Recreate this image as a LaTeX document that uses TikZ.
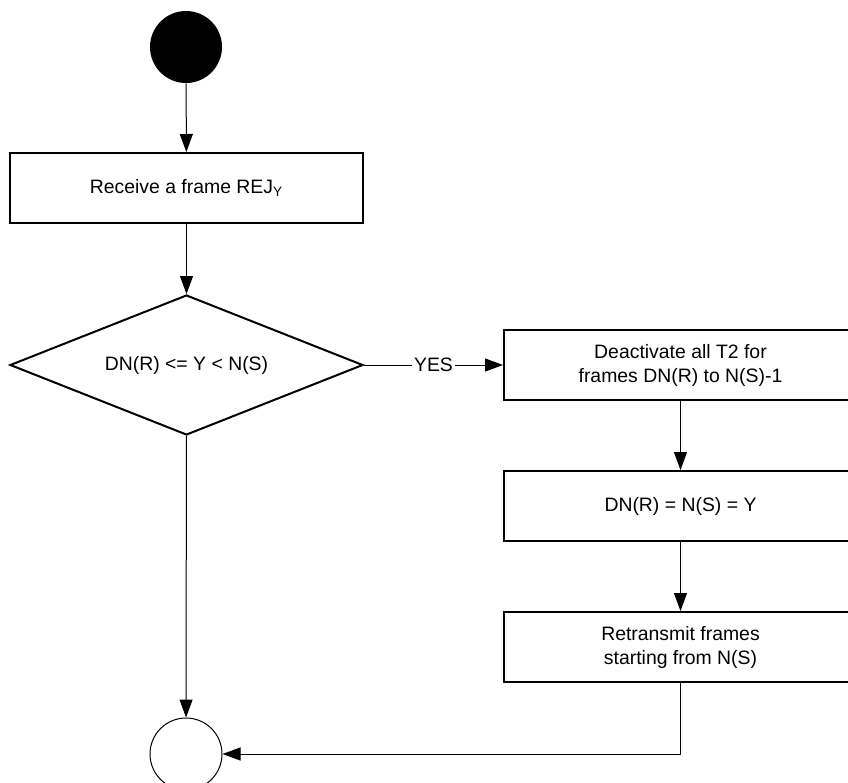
\documentclass[tikz,border=0pt]{standalone}
\usepackage{fontspec}
\setmainfont{Liberation Sans}
\usetikzlibrary{arrows.meta,shapes.geometric}
\tikzset{
  procbox/.style={draw, line width=1pt, minimum width=176.5pt,
    minimum height=35pt, inner sep=0pt, align=center},
  testdiamond/.style={draw, diamond, line width=1pt, aspect=2.52,
    minimum width=176.5pt, minimum height=70pt, inner sep=0pt},
  startdot/.style={circle, fill=black, minimum size=36pt, inner sep=0pt},
  enddot/.style={circle, draw, line width=0.5pt, minimum size=36pt, inner sep=0pt},
  flowarrow/.style={line width=0.5pt, -{Triangle[length=9pt,width=6.5pt]}}}

\begin{document}
\begin{tikzpicture}[x=0.5pt,y=-0.5pt,font=\fontsize{9.7}{12}\selectfont]
  \useasboundingbox (0,0) rectangle (848,783);
  \clip (0,0) rectangle (848,783);
  % start and end points
  \node[startdot] (start) at (186,47) {};
  \node[enddot] (stop) at (186,754) {};
  % left column
  \node[procbox] (recv) at (186.5,188) {Receive a frame REJ\textsubscript{Y}};
  \node[testdiamond] (check) at (186.5,365) {DN(R) <= Y < N(S)};
  % right column
  \node[procbox] (deact) at (680.5,365) {Deactivate all T2 for\\frames DN(R) to N(S)-1};
  \node[procbox] (setdn) at (680.5,506) {DN(R) = N(S) = Y};
  \node[procbox] (retx) at (680.5,647) {Retransmit frames\\starting from N(S)};
  % connectors
  \draw[flowarrow] (start) -- (recv);
  \draw[flowarrow] (recv) -- (check);
  \draw[flowarrow] (check) -- node[fill=white, inner sep=1pt] {YES} (deact);
  \draw[flowarrow] (deact) -- (setdn);
  \draw[flowarrow] (setdn) -- (retx);
  \draw[flowarrow] (check) -- (stop);
  \draw[flowarrow] (retx) |- (stop);
\end{tikzpicture}
\end{document}
